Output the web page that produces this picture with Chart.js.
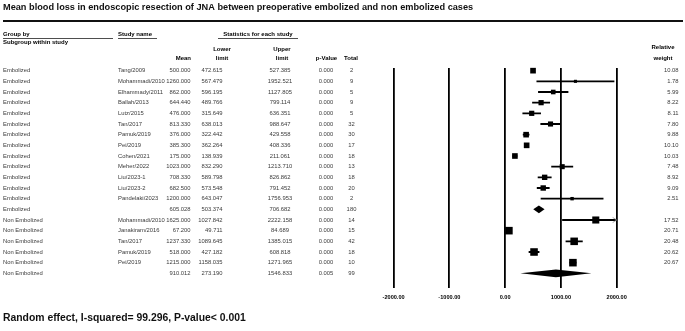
<!DOCTYPE html>
<html><head><meta charset="utf-8">
<script src="https://cdn.jsdelivr.net/npm/chart.js@4.4.1/dist/chart.umd.min.js"></script>
<style>html,body{margin:0;padding:0;background:#fff;overflow:hidden}canvas{display:block}</style>
</head><body>
<canvas id="c" width="685" height="331"></canvas>
<script>
const titleText = "Mean blood loss in endoscopic resection of JNA between preoperative embolized and non embolized cases";
const footerText = "Random effect, I-squared= 99.296, P-value< 0.001";
const groups = ["Embolized","Embolized","Embolized","Embolized","Embolized","Embolized","Embolized","Embolized","Embolized","Embolized","Embolized","Embolized","Embolized","Embolized","Non Embolized","Non Embolized","Non Embolized","Non Embolized","Non Embolized","Non Embolized"];
const studies = ["Tang/2009","Mohammadi/2010","Elhammady/2011","Ballah/2013","Lutz/2015","Tan/2017","Pamuk/2019","Pei/2019","Cohen/2021","Meher/2022","Liu/2023-1","Liu/2023-2","Pandelaki/2023","","Mohammadi/2010","Janakiram/2016","Tan/2017","Pamuk/2019","Pei/2019",""];
const means = [500.000,1260.000,862.000,644.440,476.000,813.330,376.000,385.300,175.000,1023.000,708.330,682.500,1200.000,605.028,1625.000,67.200,1237.330,518.000,1215.000,910.012];
const lowers = [472.615,567.479,596.195,489.766,315.649,638.013,322.442,362.264,138.939,832.290,589.798,573.548,643.047,503.374,1027.842,49.711,1089.645,427.182,1158.035,273.190];
const uppers = [527.385,1952.521,1127.805,799.114,636.351,988.647,429.558,408.336,211.061,1213.710,826.862,791.452,1756.953,706.682,2222.158,84.689,1385.015,608.818,1271.965,1546.833];
const pValues = ["0.000","0.000","0.000","0.000","0.000","0.000","0.000","0.000","0.000","0.000","0.000","0.000","0.000","0.000","0.000","0.000","0.000","0.000","0.000","0.005"];
const totals = [2,9,5,9,5,32,30,17,18,13,18,20,2,180,14,15,42,18,10,99];
const weights = [10.08,1.78,5.99,8.22,8.11,7.80,9.88,10.10,10.03,7.48,8.92,9.09,2.51,null,17.52,20.71,20.48,20.62,20.67,null];
const xTicks = [-2000,-1000,0,1000,2000];

const FF = "'Liberation Sans', Arial, sans-serif";
const rowIdx = studies.map((s, i) => i);
const studyRows = rowIdx.filter(i => weights[i] !== null);
const summaryRows = rowIdx.filter(i => weights[i] === null);
const xMin = xTicks[0], xMax = xTicks[xTicks.length - 1];

const squareData = studyRows.map(i => ({x: means[i], y: i}));
const squareRadius = studyRows.map(i => (1.2 + 1.4 * Math.sqrt(weights[i])) / Math.SQRT2);
const ciData = studyRows.map(i => ({x: [lowers[i], uppers[i]], y: i}));

const forestPlugin = {
  id: 'forest',
  afterDatasetsDraw(chart) {
    const ctx = chart.ctx, xs = chart.scales.x, ys = chart.scales.y;
    ctx.save();
    ctx.fillStyle = '#000';
    summaryRows.forEach(i => {
      const y = ys.getPixelForValue(i);
      const h = 3.8;
      ctx.beginPath();
      ctx.moveTo(xs.getPixelForValue(lowers[i]), y);
      ctx.lineTo(xs.getPixelForValue(means[i]), y - h);
      ctx.lineTo(xs.getPixelForValue(uppers[i]), y);
      ctx.lineTo(xs.getPixelForValue(means[i]), y + h);
      ctx.closePath();
      ctx.fill();
    });
    ctx.strokeStyle = '#888';
    ctx.lineWidth = 0.8;
    studyRows.forEach(i => {
      if (uppers[i] > xMax) {
        const y = ys.getPixelForValue(i);
        const px = xs.getPixelForValue(xMax);
        ctx.beginPath();
        ctx.moveTo(px - 4, y - 2.5);
        ctx.lineTo(px, y);
        ctx.lineTo(px - 4, y + 2.5);
        ctx.stroke();
      }
    });
    ctx.restore();
  },
  afterDraw(chart) {
    const ctx = chart.ctx, ys = chart.scales.y;
    ctx.save();
    const txt = (s, x, y, align, font, color) => {
      ctx.font = font; ctx.fillStyle = color || '#000';
      ctx.textAlign = align; ctx.textBaseline = 'middle';
      ctx.fillText(s, x, y);
    };
    ctx.font = `bold 10px ${FF}`;
    const tw = ctx.measureText(titleText).width;
    const ts = 10 * 471 / tw;
    txt(titleText, 3, 7, 'left', `bold ${ts}px ${FF}`, '#111');
    ctx.fillStyle = '#111';
    ctx.fillRect(3, 20, 680, 2);
    const hb = `bold 6px ${FF}`;
    txt('Group by', 3, 34, 'left', hb);
    txt('Study name', 118, 34, 'left', hb);
    txt('Statistics for each study', 258, 34, 'center', hb);
    ctx.fillStyle = '#222';
    ctx.fillRect(3, 38, 110, 0.8);
    ctx.fillRect(118, 38, 39, 0.8);
    ctx.fillRect(218, 38, 80, 0.8);
    txt('Subgroup within study', 3, 42.5, 'left', hb);
    txt('Lower', 222, 49.5, 'center', hb);
    txt('Upper', 282, 49.5, 'center', hb);
    txt('Relative', 663, 47.5, 'center', hb);
    txt('Mean', 191, 58.5, 'right', hb);
    txt('limit', 222, 58.5, 'center', hb);
    txt('limit', 282, 58.5, 'center', hb);
    txt('p-Value', 326.5, 58.5, 'center', hb);
    txt('Total', 351, 58.5, 'center', hb);
    txt('weight', 663, 58.5, 'center', hb);
    const rf = `5.85px ${FF}`, rc = '#3a3a3a';
    rowIdx.forEach(i => {
      const y = ys.getPixelForValue(i);
      txt(groups[i], 3, y, 'left', rf, rc);
      txt(studies[i], 118, y, 'left', rf, rc);
      txt(means[i].toFixed(3), 190.5, y, 'right', rf, rc);
      txt(lowers[i].toFixed(3), 222.5, y, 'right', rf, rc);
      txt(uppers[i].toFixed(3), 280, y, 'center', rf, rc);
      txt(pValues[i], 326, y, 'center', rf, rc);
      txt(String(totals[i]), 351.5, y, 'center', rf, rc);
      if (weights[i] !== null) txt(weights[i].toFixed(2), 678.5, y, 'right', rf, rc);
    });
    ctx.font = `bold 10px ${FF}`;
    const fw = ctx.measureText(footerText).width;
    const fs = 10 * 243 / fw;
    txt(footerText, 3, 318, 'left', `bold ${fs}px ${FF}`, '#111');
    ctx.restore();
  }
};

new Chart(document.getElementById('c'), {
  type: 'scatter',
  data: {
    datasets: [
      {
        type: 'scatter',
        data: squareData,
        pointStyle: 'rect',
        pointRadius: squareRadius,
        pointHoverRadius: squareRadius,
        backgroundColor: '#000',
        borderWidth: 0,
        clip: false
      },
      {
        type: 'bar',
        indexAxis: 'y',
        data: ciData,
        backgroundColor: '#000',
        borderWidth: 0,
        barThickness: 1.2,
        clip: 0
      }
    ]
  },
  options: {
    responsive: false,
    animation: false,
    devicePixelRatio: 1,
    layout: { padding: { left: 393.6, right: 68.3, top: 68, bottom: 0 } },
    plugins: { legend: { display: false }, tooltip: { enabled: false }, title: { display: false } },
    scales: {
      x: {
        type: 'linear',
        position: 'bottom',
        min: xMin,
        max: xMax,
        offset: false,
        afterBuildTicks: s => { s.ticks = xTicks.map(v => ({value: v})); },
        afterFit: s => { s.height = 43; },
        ticks: {
          callback: v => Number(v).toFixed(2),
          font: { family: FF, size: 5.6, weight: 'bold' },
          color: '#000',
          padding: 6,
          maxRotation: 0,
          autoSkip: false
        },
        grid: { color: '#000', lineWidth: 1.8, drawTicks: false, offset: false },
        border: { display: false }
      },
      y: {
        type: 'linear',
        display: false,
        reverse: true,
        offset: false,
        grace: 0,
        min: -0.25,
        max: 20.375
      }
    }
  },
  plugins: [forestPlugin]
});
</script>
</body></html>
